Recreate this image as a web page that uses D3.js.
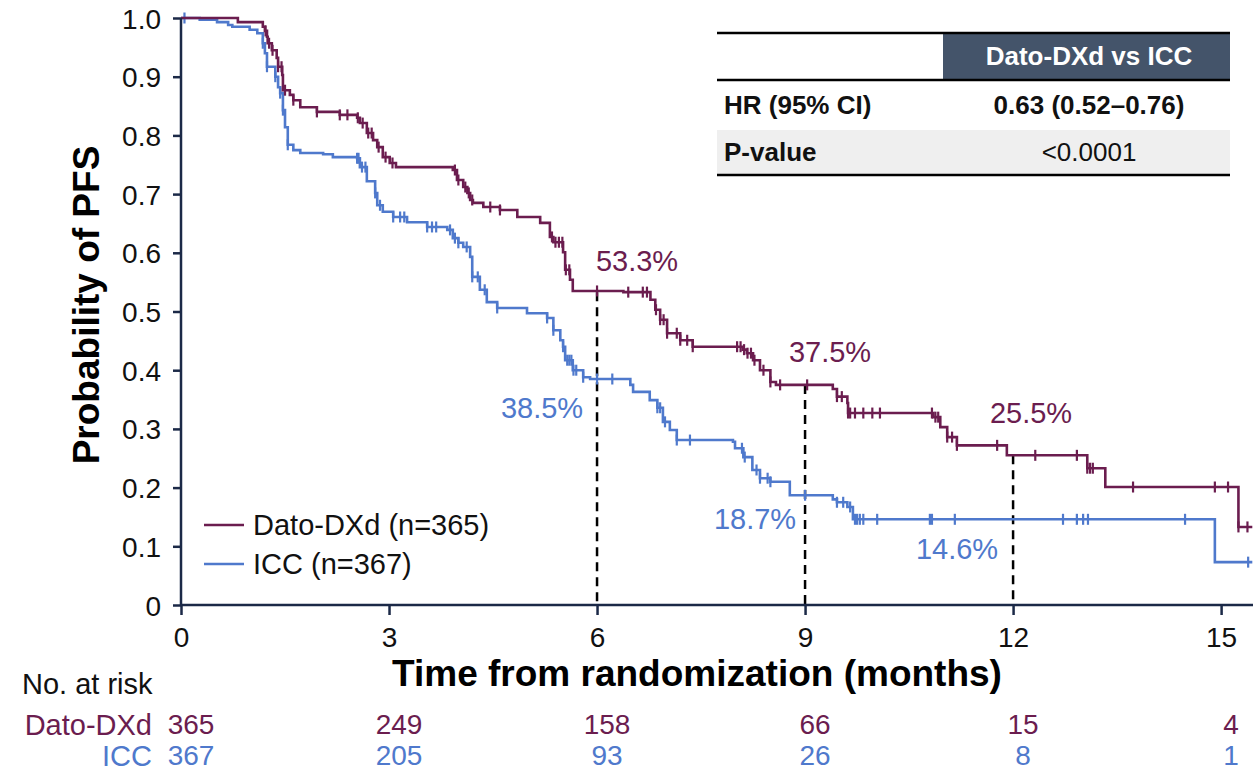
<!DOCTYPE html>
<html>
<head>
<meta charset="utf-8">
<script src="https://cdn.jsdelivr.net/npm/d3@7"></script>
<style>
html,body{margin:0;padding:0;background:#fff;}
svg{display:block;font-family:"Liberation Sans",Arial,sans-serif;}
</style>
</head>
<body>
<svg id="chart" width="1253" height="772"></svg>
<script>
// ---------------- DATA ----------------
const seriesNames = ["Dato-DXd", "ICC"];
const legendLabels = ["Dato-DXd (n=365)", "ICC (n=367)"];

// Kaplan-Meier steps: [time (months), survival after step]
const datoSteps = [[0,1.0],[0.82,0.993],[1.18,0.985],[1.21,0.978],[1.24,0.968],[1.25,0.957],[1.31,0.945],[1.38,0.932],[1.40,0.917],[1.46,0.903],[1.47,0.877],[1.57,0.869],[1.62,0.860],[1.72,0.848],[1.96,0.840],[2.29,0.835],[2.54,0.830],[2.58,0.821],[2.68,0.804],[2.77,0.792],[2.83,0.780],[2.91,0.763],[3.01,0.753],[3.10,0.746],[3.92,0.741],[3.98,0.724],[4.07,0.712],[4.13,0.702],[4.17,0.690],[4.21,0.685],[4.36,0.678],[4.60,0.673],[4.85,0.661],[5.18,0.651],[5.32,0.627],[5.37,0.618],[5.51,0.601],[5.54,0.571],[5.61,0.554],[5.65,0.535],[6.38,0.533],[6.77,0.520],[6.84,0.503],[6.91,0.486],[7.01,0.463],[7.20,0.451],[7.38,0.440],[8.10,0.435],[8.16,0.429],[8.25,0.417],[8.35,0.400],[8.50,0.380],[8.58,0.375],[9.40,0.368],[9.46,0.355],[9.61,0.344],[9.62,0.327],[10.85,0.320],[10.95,0.303],[11.05,0.286],[11.19,0.272],[11.91,0.255],[13.07,0.233],[13.33,0.201],[15.25,0.133]];
const iccSteps = [[0,1.0],[0.27,0.997],[0.52,0.993],[0.68,0.988],[0.74,0.985],[0.99,0.980],[1.10,0.974],[1.18,0.957],[1.21,0.940],[1.24,0.917],[1.36,0.900],[1.40,0.882],[1.43,0.872],[1.47,0.843],[1.50,0.814],[1.54,0.784],[1.62,0.775],[1.72,0.770],[2.05,0.768],[2.19,0.763],[2.54,0.761],[2.58,0.746],[2.68,0.722],[2.80,0.702],[2.83,0.681],[2.91,0.670],[3.06,0.661],[3.26,0.652],[3.55,0.644],[3.84,0.639],[3.92,0.625],[4.00,0.617],[4.07,0.610],[4.17,0.593],[4.20,0.559],[4.31,0.537],[4.41,0.516],[4.56,0.506],[4.99,0.497],[5.28,0.489],[5.37,0.468],[5.47,0.451],[5.51,0.440],[5.54,0.417],[5.65,0.400],[5.80,0.388],[5.90,0.385],[6.48,0.375],[6.52,0.363],[6.76,0.349],[6.87,0.336],[6.95,0.312],[7.05,0.298],[7.15,0.281],[7.96,0.278],[7.99,0.267],[8.11,0.252],[8.24,0.230],[8.35,0.216],[8.50,0.210],[8.78,0.187],[9.40,0.180],[9.46,0.175],[9.61,0.167],[9.69,0.146],[14.91,0.073]];
const followUpEnd = 15.45;

// censoring times
const datoCensor = [1.22,1.27,1.32,1.40,1.45,1.50,1.62,1.96,2.29,2.40,2.55,2.62,2.70,2.75,2.85,2.95,3.05,3.95,4.00,4.10,4.15,4.20,4.46,4.60,5.35,5.40,5.45,5.50,5.55,5.60,6.00,6.45,6.66,6.72,6.85,6.91,6.96,7.01,7.15,7.20,7.30,7.38,8.02,8.07,8.12,8.17,8.22,8.27,8.40,8.50,8.64,9.03,9.46,9.53,9.62,9.65,9.72,9.84,9.97,10.08,10.83,10.88,10.92,11.05,11.12,11.19,11.77,12.32,12.92,13.07,13.11,13.15,13.73,14.91,15.10,15.25,15.38];
const iccCensor = [0.05,1.18,1.24,1.36,1.43,1.47,1.54,2.54,2.56,2.61,2.66,2.80,2.87,3.06,3.16,3.22,3.55,3.62,3.68,3.88,3.95,4.00,4.12,4.20,4.28,4.38,4.56,5.28,5.37,5.51,5.57,5.60,5.63,5.66,5.70,5.80,6.00,6.22,6.87,6.91,6.98,7.15,7.34,8.09,8.13,8.30,8.35,8.46,8.50,9.00,9.46,9.55,9.65,9.72,9.75,9.79,9.84,10.04,10.80,10.83,11.16,12.72,12.92,13.01,13.08,14.48,15.39];

// axes
const xTicks = [0,3,6,9,12,15];
const yTicks = [0,0.1,0.2,0.3,0.4,0.5,0.6,0.7,0.8,0.9,1.0];
const yTickLabels = ["0","0.1","0.2","0.3","0.4","0.5","0.6","0.7","0.8","0.9","1.0"];
const xTitle = "Time from randomization (months)";
const yTitle = "Probability of PFS";

// milestones
const milestoneTimes = [6,9,12];
const datoMilestone = [0.533,0.375,0.255];
const iccMilestone = [0.385,0.187,0.146];
const datoMilestoneLabels = ["53.3%","37.5%","25.5%"];
const iccMilestoneLabels = ["38.5%","18.7%","14.6%"];

// numbers at risk
const riskTitle = "No. at risk";
const riskTimes = [0,3,6,9,12,15];
const datoRisk = [365,249,158,66,15,4];
const iccRisk = [367,205,93,26,8,1];

// HR table
const tableHeader = "Dato-DXd vs ICC";
const tableRowLabels = ["HR (95% CI)","P-value"];
const tableRowValues = ["0.63 (0.52\u20130.76)","<0.0001"];

// ---------------- STYLE / LAYOUT ----------------
const colors = {dato:"#6b1d4f", icc:"#4f79cc", axis:"#1b2947", header:"#44546a", gray:"#efefef"};
const svg = d3.select("#chart");
const x = d3.scaleLinear().domain([0, 15.46]).range([181, 1253]);
const y = d3.scaleLinear().domain([0, 1]).range([605, 18]);

function stepValue(steps, t){
  let v = steps[0][1];
  for (const s of steps){ if (s[0] <= t) v = s[1]; else break; }
  return v;
}

// dashed milestone lines
milestoneTimes.forEach((t,i)=>{
  svg.append("line")
    .attr("x1", x(t)).attr("x2", x(t))
    .attr("y1", y(datoMilestone[i])).attr("y2", y(0))
    .attr("stroke","#000").attr("stroke-width",2.5)
    .attr("stroke-dasharray","9,6");
});

// curves
const line = d3.line().x(d=>x(d[0])).y(d=>y(d[1])).curve(d3.curveStepAfter);
const series = [
  {steps: datoSteps, censor: datoCensor, color: colors.dato},
  {steps: iccSteps, censor: iccCensor, color: colors.icc}
];
series.slice().reverse().forEach(s=>{
  const pts = s.steps.concat([[followUpEnd, s.steps[s.steps.length-1][1]]]);
  svg.append("path").datum(pts)
    .attr("d", line).attr("fill","none")
    .attr("stroke", s.color).attr("stroke-width",2.6);
  svg.append("g").selectAll("line").data(s.censor).join("line")
    .attr("x1", d=>x(d)).attr("x2", d=>x(d))
    .attr("y1", d=>y(stepValue(s.steps,d))-5.5)
    .attr("y2", d=>y(stepValue(s.steps,d))+5.5)
    .attr("stroke", s.color).attr("stroke-width",2.2);
});

// axes
const yAxis = d3.axisLeft(y).tickValues(yTicks).tickFormat((d,i)=>yTickLabels[i]).tickSize(8).tickPadding(12);
const gy = svg.append("g").attr("transform","translate(181,0)").call(yAxis);
const xAxis = d3.axisBottom(x).tickValues(xTicks).tickSize(10).tickPadding(12);
const gx = svg.append("g").attr("transform","translate(0,605)").call(xAxis);
[gx, gy].forEach(g=>{
  g.select(".domain").attr("stroke", colors.axis).attr("stroke-width",2.5);
  g.selectAll(".tick line").attr("stroke", colors.axis).attr("stroke-width",2.5);
  g.selectAll("text").attr("fill","#111").style("font-size","28px")
    .style("font-family",'"Liberation Sans",Arial,sans-serif');
});
gy.select(".domain").attr("d","M0,18V605");
gx.select(".domain").attr("d","M181,0H1253");
gy.selectAll("text").attr("dy","0.36em");

// axis titles
svg.append("text").attr("x",697).attr("y",676).attr("text-anchor","middle")
  .attr("dominant-baseline","middle").style("font-size","37px").style("font-weight","bold")
  .text(xTitle);
svg.append("text").attr("transform","translate(89,305) rotate(-90)").attr("text-anchor","middle")
  .attr("dominant-baseline","middle").style("font-size","37px").style("font-weight","bold")
  .text(yTitle);

// milestone labels
const datoLabelPos = [[637,263],[830,354],[1031,415]];
const iccLabelPos = [[542,410],[755,521],[957,551]];
datoMilestoneLabels.forEach((t,i)=>{
  svg.append("text").attr("x",datoLabelPos[i][0]).attr("y",datoLabelPos[i][1])
    .attr("text-anchor","middle").attr("dominant-baseline","middle")
    .style("font-size","29px").attr("fill",colors.dato).text(t);
});
iccMilestoneLabels.forEach((t,i)=>{
  svg.append("text").attr("x",iccLabelPos[i][0]).attr("y",iccLabelPos[i][1])
    .attr("text-anchor","middle").attr("dominant-baseline","middle")
    .style("font-size","29px").attr("fill",colors.icc).text(t);
});

// legend
legendLabels.forEach((t,i)=>{
  const ly = 525 + i*39;
  const c = i===0 ? colors.dato : colors.icc;
  svg.append("line").attr("x1",204).attr("x2",244).attr("y1",ly).attr("y2",ly)
    .attr("stroke",c).attr("stroke-width",2.4);
  svg.append("text").attr("x",253).attr("y",ly+2).attr("dominant-baseline","middle")
    .style("font-size","29px").attr("fill","#111").text(t);
});

// risk table
svg.append("text").attr("x",22).attr("y",686).attr("dominant-baseline","middle")
  .style("font-size","29px").attr("fill","#111").text(riskTitle);
[[datoRisk, colors.dato, 727], [iccRisk, colors.icc, 758]].forEach((r,i)=>{
  svg.append("text").attr("x",152).attr("y",r[2]).attr("text-anchor","end")
    .attr("dominant-baseline","middle").style("font-size","29px").attr("fill",r[1])
    .text(seriesNames[i]);
  svg.append("g").selectAll("text").data(riskTimes).join("text")
    .attr("x",(d)=>x(d)+10).attr("y",r[2]).attr("text-anchor","middle")
    .attr("dominant-baseline","middle").style("font-size","28px").attr("fill",r[1])
    .text((d,j)=>r[0][j]);
});

// HR table
const tb = svg.append("g");
tb.append("rect").attr("x",943).attr("y",33).attr("width",287).attr("height",47).attr("fill",colors.header);
tb.append("rect").attr("x",717).attr("y",130).attr("width",513).attr("height",45).attr("fill",colors.gray);
tb.append("line").attr("x1",717).attr("x2",1230).attr("y1",33).attr("y2",33).attr("stroke","#000").attr("stroke-width",2.5);
tb.append("line").attr("x1",717).attr("x2",1230).attr("y1",80).attr("y2",80).attr("stroke","#000").attr("stroke-width",2.5);
tb.append("line").attr("x1",717).attr("x2",1230).attr("y1",175).attr("y2",175).attr("stroke","#000").attr("stroke-width",2.5);
tb.append("text").attr("x",1089).attr("y",58).attr("text-anchor","middle").attr("dominant-baseline","middle")
  .style("font-size","26px").style("font-weight","bold").attr("fill","#fff").text(tableHeader);
tableRowLabels.forEach((t,i)=>{
  const ry = 107 + i*47;
  tb.append("text").attr("x",724).attr("y",ry).attr("dominant-baseline","middle")
    .style("font-size","26px").style("font-weight","bold").attr("fill","#111").text(t);
  tb.append("text").attr("x",1089).attr("y",ry).attr("text-anchor","middle").attr("dominant-baseline","middle")
    .style("font-size","26px").style("font-weight", i===0?"bold":"normal").attr("fill","#111").text(tableRowValues[i]);
});
</script>
</body>
</html>
